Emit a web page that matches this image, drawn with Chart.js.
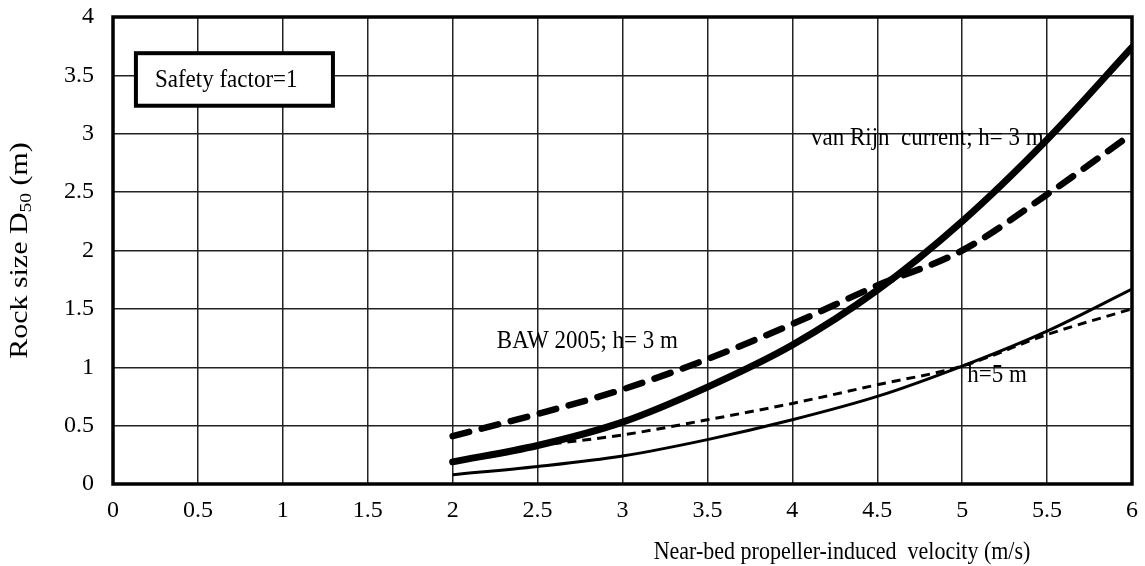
<!DOCTYPE html>
<html>
<head>
<meta charset="utf-8">
<script src="https://cdn.jsdelivr.net/npm/chart.js@4.4.1/dist/chart.umd.min.js"></script>
<style>
  html, body { margin: 0; padding: 0; background: #fff; }
  #wrap { width: 1145px; height: 566px; }
</style>
</head>
<body>
<div id="wrap"><canvas id="rockChart" width="1145" height="566"></canvas></div>
<script>
// velocity (m/s)
const velocity = [2, 2.5, 3, 3.5, 4, 4.5, 5, 5.5, 6];

// D50 (m) for each method / water depth
const vanRijnH3 = [0.19, 0.33, 0.53, 0.83, 1.19, 1.66, 2.25, 2.95, 3.74];
const bawH3     = [0.41, 0.60, 0.81, 1.07, 1.37, 1.70, 2.00, 2.48, 3.00];
const vanRijnH5 = [0.08, 0.15, 0.24, 0.38, 0.55, 0.75, 1.01, 1.31, 1.67];
const bawH5     = [null, 0.33, 0.42, 0.55, 0.69, 0.85, 1.01, 1.28, 1.50];

const xTicks = [0, 0.5, 1, 1.5, 2, 2.5, 3, 3.5, 4, 4.5, 5, 5.5, 6];
const yTicks = [0, 0.5, 1, 1.5, 2, 2.5, 3, 3.5, 4];

const serif = '"Liberation Serif", "Times New Roman", serif';

function pts(ys) {
  return velocity.map((v, i) => ({ x: v, y: ys[i] }));
}

// text drawn slightly taller than wide, like the rest of the figure
function tallText(ctx, str, px, py) {
  ctx.save();
  ctx.translate(px, py);
  ctx.scale(1, 1.12);
  ctx.fillText(str, 0, 0);
  ctx.restore();
}

// frame, text labels, safety factor box and the axis titles
const decorations = {
  id: 'decorations',
  afterDatasetsDraw(chart) {
    const { ctx, chartArea: a, scales: { x, y } } = chart;
    ctx.save();
    ctx.strokeStyle = '#000';
    ctx.lineWidth = 3.5;
    ctx.strokeRect(a.left, a.top, a.right - a.left, a.bottom - a.top);

    ctx.fillStyle = '#000';
    ctx.font = '23px ' + serif;
    ctx.textBaseline = 'middle';
    ctx.textAlign = 'left';
    tallText(ctx, 'van Rijn  current; h= 3 m', x.getPixelForValue(4.11), y.getPixelForValue(2.96));
    tallText(ctx, 'BAW 2005; h= 3 m', x.getPixelForValue(2.26), y.getPixelForValue(1.22));
    tallText(ctx, 'h=5 m', x.getPixelForValue(5.03), y.getPixelForValue(0.93));

    // safety factor box
    const bx0 = x.getPixelForValue(0.135), bx1 = x.getPixelForValue(1.295);
    const by0 = y.getPixelForValue(3.69), by1 = y.getPixelForValue(3.24);
    ctx.fillStyle = '#fff';
    ctx.fillRect(bx0, by0, bx1 - bx0, by1 - by0);
    ctx.lineWidth = 4;
    ctx.strokeRect(bx0, by0, bx1 - bx0, by1 - by0);
    ctx.fillStyle = '#000';
    tallText(ctx, 'Safety factor=1', bx0 + 19, (by0 + by1) / 2 + 1);

    // x axis title
    ctx.textAlign = 'center';
    ctx.font = '22px ' + serif;
    tallText(ctx, 'Near-bed propeller-induced  velocity (m/s)', 842, 553);

    // y axis title with subscript
    ctx.translate(20, (a.top + a.bottom) / 2);
    ctx.rotate(-Math.PI / 2);
    ctx.scale(1.15, 1);
    const big = '26px ' + serif, small = '17px ' + serif;
    const parts = [['Rock size D', big, 0], ['50', small, 7], [' (m)', big, 0]];
    let total = 0;
    parts.forEach(p => { ctx.font = p[1]; total += ctx.measureText(p[0]).width; });
    let cx = -total / 2;
    ctx.textAlign = 'left';
    parts.forEach(p => {
      ctx.font = p[1];
      ctx.fillText(p[0], cx, p[2]);
      cx += ctx.measureText(p[0]).width;
    });
    ctx.restore();
  }
};

new Chart(document.getElementById('rockChart'), {
  type: 'line',
  data: {
    datasets: [
      { label: 'van Rijn h=3', data: pts(vanRijnH3), borderColor: '#000', borderWidth: 7, borderCapStyle: 'round' },
      { label: 'BAW h=3', data: pts(bawH3), borderColor: '#000', borderWidth: 6.5, borderDash: [17, 13], borderCapStyle: 'round' },
      { label: 'van Rijn h=5', data: pts(vanRijnH5), borderColor: '#000', borderWidth: 3 },
      { label: 'BAW h=5', data: pts(bawH5), borderColor: '#000', borderWidth: 3, borderDash: [9, 6] }
    ]
  },
  options: {
    responsive: false,
    animation: false,
    spanGaps: false,
    elements: {
      point: { radius: 0 },
      line: { cubicInterpolationMode: 'monotone', fill: false }
    },
    layout: { padding: { left: 0, top: 17, right: 13, bottom: 0 } },
    plugins: { legend: { display: false }, tooltip: { enabled: false } },
    scales: {
      x: {
        type: 'linear',
        min: 0, max: 6,
        afterBuildTicks: s => { s.ticks = xTicks.map(v => ({ value: v })); },
        afterFit: s => { s.height = 82; s.paddingLeft = 0; s.paddingRight = 0; },
        grid: { color: '#222', lineWidth: 1.5, drawTicks: false },
        border: { display: false },
        ticks: { color: '#000', font: { family: serif, size: 24 }, padding: 12, maxRotation: 0, callback: v => String(v) }
      },
      y: {
        min: 0, max: 4,
        afterBuildTicks: s => { s.ticks = yTicks.map(v => ({ value: v })); },
        afterFit: s => { s.width = 113; s.paddingTop = 0; s.paddingBottom = 0; },
        grid: { color: '#222', lineWidth: 1.5, drawTicks: false },
        border: { display: false },
        ticks: { color: '#000', font: { family: serif, size: 24 }, padding: 19, callback: v => String(v) }
      }
    }
  },
  plugins: [decorations]
});
</script>
</body>
</html>
